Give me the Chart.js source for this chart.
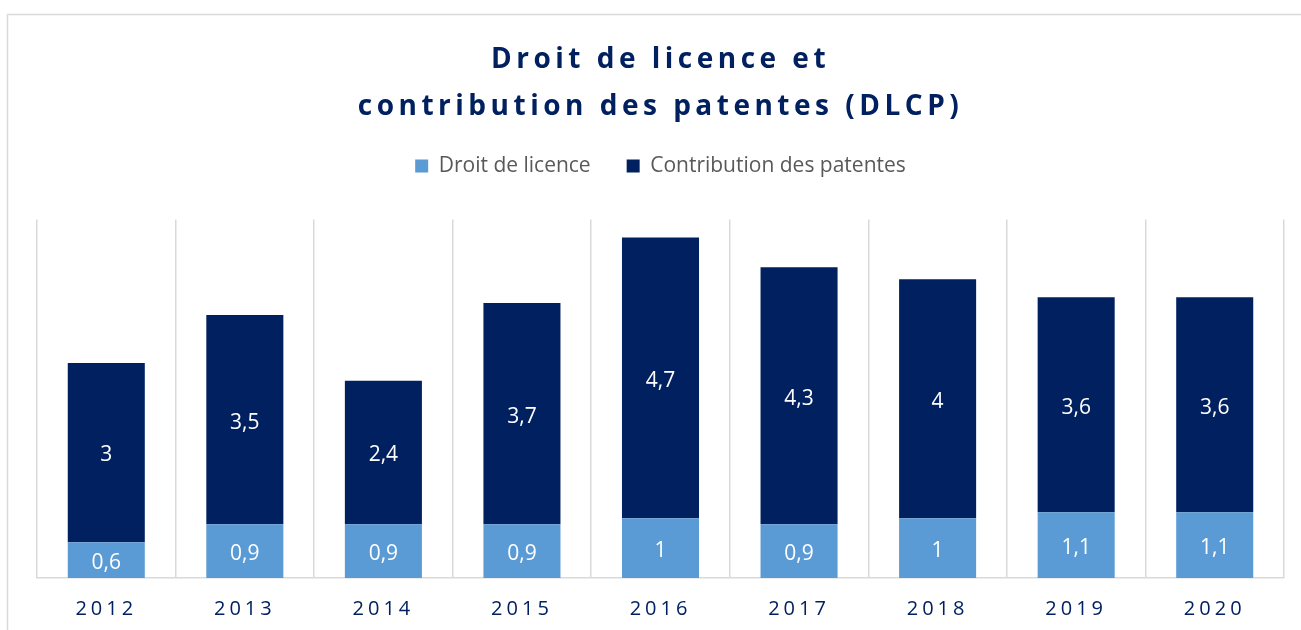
<!DOCTYPE html>
<html>
<head>
<meta charset="utf-8">
<script src="https://cdn.jsdelivr.net/npm/chart.js@4/dist/chart.umd.min.js"></script>
<style>
html,body{margin:0;padding:0;background:#fff;}
#wrap{width:1301px;height:630px;position:relative;}
</style>
</head>
<body>
<div id="wrap"><canvas id="c" width="1301" height="630"></canvas></div>
<script>
const categories = ['2012','2013','2014','2015','2016','2017','2018','2019','2020'];
const droitLicence = [0.6, 0.9, 0.9, 0.9, 1, 0.9, 1, 1.1, 1.1];
const contributionPatentes = [3, 3.5, 2.4, 3.7, 4.7, 4.3, 4, 3.6, 3.6];
const seriesNames = ['Droit de licence', 'Contribution des patentes'];
const titleLines = ['Droit de licence et', 'contribution des patentes (DLCP)'];

const NAVY = '#002060';
const LIGHT = '#5B9BD5';
const GRID = '#d9d9d9';

const framePlugin = {
  id: 'frame',
  beforeDraw(chart) {
    const ctx = chart.ctx;
    ctx.save();
    ctx.strokeStyle = GRID;
    ctx.lineWidth = 1.5;
    ctx.strokeRect(7.5, 14.5, 1400, 800);
    ctx.restore();
  }
};

const spacingPlugin = {
  id: 'spacing',
  afterLayout(chart) {
    if (chart.legend && !chart.legend._wrapped) {
      const origLegendDraw = chart.legend.draw;
      chart.legend.draw = function () {
        const ctx = chart.ctx;
        ctx.save();
        ctx.letterSpacing = '0px';
        origLegendDraw.apply(this, arguments);
        ctx.restore();
      };
      chart.legend._wrapped = true;
    }
    if (chart.titleBlock && !chart.titleBlock._wrapped) {
      const origTitleDraw = chart.titleBlock.draw;
      chart.titleBlock.draw = function () {
        const ctx = chart.ctx;
        ctx.save();
        ctx.letterSpacing = '4.5px';
        origTitleDraw.apply(this, arguments);
        ctx.restore();
      };
      chart.titleBlock._wrapped = true;
    }
    const xs = chart.scales.x;
    if (xs && !xs._wrapped) {
      const origDrawLabels = xs.drawLabels;
      xs.drawLabels = function () {
        const ctx = chart.ctx;
        ctx.save();
        ctx.letterSpacing = '4px';
        origDrawLabels.apply(this, arguments);
        ctx.restore();
      };
      xs._wrapped = true;
    }
  }
};

const legendSpacePlugin = {
  id: 'legendSpace',
  beforeInit(chart) {
    const origFit = chart.legend.fit;
    chart.legend.fit = function () {
      origFit.call(this);
      this.height += 33;
    };
  }
};

const valueLabelPlugin = {
  id: 'valueLabels',
  afterDatasetsDraw(chart) {
    const ctx = chart.ctx;
    ctx.save();
    ctx.letterSpacing = '0px';
    ctx.fillStyle = '#ffffff';
    ctx.font = '21px "Open Sans"';
    ctx.textAlign = 'center';
    ctx.textBaseline = 'middle';
    chart.data.datasets.forEach((ds, di) => {
      const meta = chart.getDatasetMeta(di);
      meta.data.forEach((el, i) => {
        const v = ds.data[i];
        const yc = (el.y + el.base) / 2 + 3;
        ctx.fillText(String(v).replace('.', ','), el.x, yc);
      });
    });
    ctx.restore();
  }
};

new Chart(document.getElementById('c'), {
  type: 'bar',
  data: {
    labels: categories,
    datasets: [
      { label: seriesNames[0], data: droitLicence, backgroundColor: LIGHT, borderWidth: 0 },
      { label: seriesNames[1], data: contributionPatentes, backgroundColor: NAVY, borderWidth: 0 }
    ]
  },
  options: {
    responsive: false,
    animation: false,
    devicePixelRatio: 1,
    layout: { padding: { left: 37, right: 17, top: 37, bottom: 0 } },
    datasets: { bar: { categoryPercentage: 1, barPercentage: 0.556 } },
    scales: {
      x: {
        stacked: true,
        grid: { color: GRID, lineWidth: 1.5, drawTicks: false, offset: true },
        border: { color: GRID, width: 1.5 },
        ticks: { color: NAVY, font: { family: 'Open Sans', size: 20 }, padding: 19 },
        afterFit(scale) { scale.height = 52; }
      },
      y: {
        stacked: true,
        display: false,
        min: 0,
        max: 6
      }
    },
    plugins: {
      title: {
        display: true,
        text: titleLines,
        color: NAVY,
        font: { family: 'Open Sans', size: 28, weight: 'bold', lineHeight: 1.66 },
        padding: { top: 0, bottom: -10.5 }
      },
      legend: {
        display: true,
        position: 'top',
        labels: {
          color: '#595959',
          font: { family: 'Open Sans', size: 21 },
          boxWidth: 13,
          boxHeight: 13,
          padding: 36
        }
      },
      tooltip: { enabled: false }
    }
  },
  plugins: [framePlugin, spacingPlugin, legendSpacePlugin, valueLabelPlugin]
});
</script>
</body>
</html>
